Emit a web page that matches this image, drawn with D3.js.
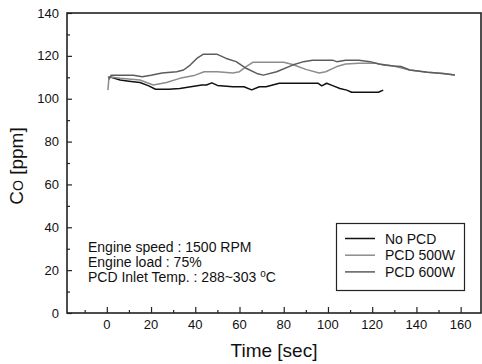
<!DOCTYPE html>
<style>
  body { margin: 0; background: #fff; }
  svg { display: block; font-family: Arial, "Liberation Sans", sans-serif; }
  .frame { fill: none; stroke: #222; stroke-width: 1.6; }
  .tick line { stroke: #222; stroke-width: 1.2; }
  .lbl { font-size: 13px; fill: #111; }
  .note { font-size: 14px; fill: #111; }
  .title { font-size: 19px; fill: #111; }
  .series { fill: none; stroke-width: 1.5; stroke-linejoin: round; }
</style>
<body>
</body>
<script src="https://cdn.jsdelivr.net/npm/d3@7/dist/d3.min.js"></script>
<script>
  const w = 482, h = 364;
  const l = 67, r = 481, t = 13, b = 313;

  const xMajor = [0, 20, 40, 60, 80, 100, 120, 140, 160];
  const xMinor = [-10, 10, 30, 50, 70, 90, 110, 130, 150];
  const yMajor = [0, 20, 40, 60, 80, 100, 120, 140];
  const yMinor = [10, 30, 50, 70, 90, 110, 130];

  const names = ['No PCD', 'PCD 500W', 'PCD 600W'];
  const colors = ['#111', '#8c8c8c', '#5c5c5c'];

  const noPcdT = [0.5, 2, 6, 10, 15, 19, 22, 28, 33, 38, 43, 45, 47.5, 50, 57, 62, 65.5, 69, 72, 78,
    95.6, 97.2, 99.4, 102.4, 105.4, 108.5, 110.7, 122.8, 125];
  const noPcdV = [110, 110, 108.7, 108.2, 107.6, 106, 104.4, 104.4, 104.8, 105.6, 106.4, 106.4, 107.4, 106.2,
    105.6, 105.6, 104.1, 105.6, 105.6, 107.2, 107.2, 106, 107.2, 106, 104.8, 104, 103, 103, 104];

  const pcd500T = [0.5, 1, 6, 15, 21, 27, 33, 40, 44, 50, 57, 60, 63, 66, 80, 84, 90, 96, 99,
    104, 108, 114, 122, 125, 129.6, 137, 145, 152, 157.4];
  const pcd500V = [104, 110.3, 109.5, 108.7, 106.4, 107.6, 109.5, 111, 112.6, 112.6, 112, 112.6, 115, 117,
    117, 116, 113.7, 112, 112.6, 115, 116.2, 116.5, 116.5, 115.7, 115.3, 113.4, 112.3, 111.8, 111.1];

  const pcd600T = [1, 2, 12, 16, 20, 25, 31.6, 34.7, 37.7, 40.7, 43.7, 49.7, 54, 58.5, 63, 67.8, 70.8,
    76.8, 84, 89, 93, 102, 104, 108, 114, 119, 123, 129.6, 133, 137, 145, 152, 157.4];
  const pcd600V = [109, 111, 111, 110.3, 111, 112, 112.6, 113.4, 115.7, 118.8, 120.8, 120.8, 118.8, 117.3,
    114.2, 111.8, 111, 112.6, 115.7, 117.3, 118, 118, 117.3, 118, 118, 117.3, 116.2, 115.3, 115, 113.4,
    112.3, 111.8, 111.1];

  const notes = ['Engine speed : 1500 RPM', 'Engine load : 75%', 'PCD Inlet Temp. : 288~303 '];

  const x = d3.scaleLinear().domain([-18, 169.2]).range([l, r]);
  const y = d3.scaleLinear().domain([0, 140]).range([b, t]);

  const svg = d3.select('body').append('svg').attr('width', w).attr('height', h);

  // ticks point inward
  svg.append('g').attr('transform', `translate(0,${b})`)
    .call(d3.axisTop(x).tickValues(xMajor).tickSize(6).tickSizeOuter(0).tickFormat(''));
  svg.append('g').attr('transform', `translate(0,${b})`)
    .call(d3.axisTop(x).tickValues(xMinor).tickSize(3).tickSizeOuter(0).tickFormat(''));
  svg.append('g').attr('transform', `translate(${l},0)`)
    .call(d3.axisRight(y).tickValues(yMajor).tickSize(5).tickSizeOuter(0).tickFormat(''));
  svg.append('g').attr('transform', `translate(${l},0)`)
    .call(d3.axisRight(y).tickValues(yMinor).tickSize(3).tickSizeOuter(0).tickFormat(''));
  svg.selectAll('.domain').remove();

  svg.append('g').selectAll('text').data(xMajor).join('text')
    .attr('class', 'lbl').attr('text-anchor', 'middle')
    .attr('x', d => x(d)).attr('y', b + 16).text(d => d);
  svg.append('g').selectAll('text').data(yMajor).join('text')
    .attr('class', 'lbl').attr('text-anchor', 'end')
    .attr('x', l - 8).attr('y', d => y(d) + 4.5).text(d => d);

  svg.append('rect').attr('class', 'frame')
    .attr('x', l).attr('y', t).attr('width', r - l).attr('height', b - t);

  const series = [
    {T: noPcdT, V: noPcdV},
    {T: pcd500T, V: pcd500V},
    {T: pcd600T, V: pcd600V},
  ];
  const line = d3.line().x(d => x(d[0])).y(d => y(d[1]));
  svg.append('g').selectAll('path').data(series).join('path')
    .attr('class', 'series')
    .attr('stroke', (d, i) => colors[i])
    .attr('d', d => line(d.T.map((tt, i) => [tt, d.V[i]])));

  // notes
  const nt = svg.append('g');
  notes.forEach((s, i) => {
    const tx = nt.append('text').attr('class', 'note').attr('x', 88).attr('y', 252 + i * 15).text(s);
    if (i == 2) {
      tx.append('tspan').attr('dy', -5).attr('font-size', 10).text('o');
      tx.append('tspan').attr('dy', 5).text('C');
    }
  });

  // legend
  const lg = svg.append('g');
  lg.append('rect').attr('x', 336.5).attr('y', 223.5).attr('width', 128).attr('height', 67)
    .attr('fill', '#fff').attr('stroke', '#222').attr('stroke-width', 1.2);
  names.forEach((n, i) => {
    const yy = 238.5 + i * 16.7;
    lg.append('line').attr('x1', 345).attr('x2', 375).attr('y1', yy).attr('y2', yy)
      .attr('stroke', colors[i]).attr('stroke-width', 1.5);
    lg.append('text').attr('class', 'note').attr('x', 385).attr('y', yy + 5).text(n);
  });

  svg.append('text').attr('class', 'title').attr('text-anchor', 'middle')
    .attr('x', (l + r) / 2).attr('y', 357).text('Time [sec]');
  const yt = svg.append('text').attr('class', 'title').attr('text-anchor', 'middle')
    .attr('transform', `translate(23,${(t + b) / 2 + 3}) rotate(-90)`);
  yt.append('tspan').text('C');
  yt.append('tspan').attr('font-size', 14).text('O');
  yt.append('tspan').text(' [ppm]');
</script>
